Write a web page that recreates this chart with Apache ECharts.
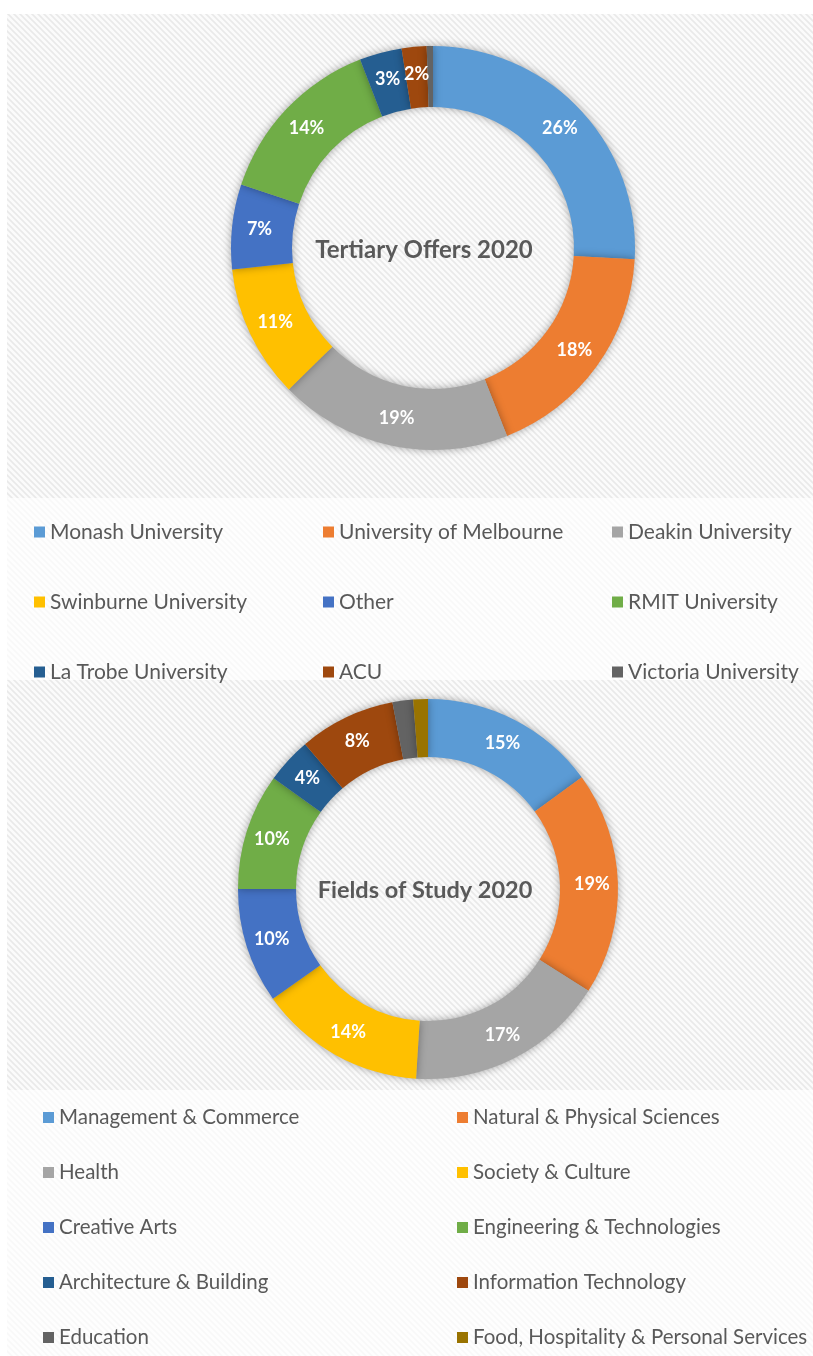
<!DOCTYPE html>
<html>
<head>
<meta charset="utf-8">
<script src="https://cdn.jsdelivr.net/npm/echarts@6/dist/echarts.min.js"></script>
<style>
html,body{margin:0;padding:0;background:#ffffff;}
#chart{width:813px;height:1356px;}
</style>
</head>
<body>
<div id="chart"></div>
<script>
// ---- Data ----
const uniNames = ['Monash University','University of Melbourne','Deakin University','Swinburne University','Other','RMIT University','La Trobe University','ACU','Victoria University'];
const uniValues = [26.0, 18.2, 18.7, 10.7, 6.8, 14.1, 3.4, 2.0, 0.5];
const uniTitle = 'Tertiary Offers 2020';

const fieldNames = ['Management & Commerce','Natural & Physical Sciences','Health','Society & Culture','Creative Arts','Engineering & Technologies','Architecture & Building','Information Technology','Education','Food, Hospitality & Personal Services'];
const fieldValues = [15.0, 19.0, 17.0, 14.2, 9.8, 9.9, 3.9, 8.2, 1.75, 1.25];
const fieldTitle = 'Fields of Study 2020';

const palette = ['#5B9BD5','#ED7D31','#A5A5A5','#FFC000','#4472C4','#70AD47','#255E91','#9E480E','#636363','#997300'];

// ---- Pattern ----
function makePattern(base, stripe) {
  const c = document.createElement('canvas');
  c.width = 6; c.height = 6;
  const g = c.getContext('2d');
  g.fillStyle = base; g.fillRect(0,0,6,6);
  g.strokeStyle = stripe; g.lineWidth = 1.6;
  g.beginPath();
  g.moveTo(-1,-1); g.lineTo(7,7);
  g.moveTo(-4,2); g.lineTo(4,10);
  g.moveTo(2,-4); g.lineTo(10,4);
  g.stroke();
  return c;
}
const hatch = makePattern('#fbfbfb', '#e9e9e9');
const faint = makePattern('#fefefe', '#f8f8f8');

const FONT = 'Lato, "Noto Sans", sans-serif';

function pieSeries(names, values, center, radius, minPct) {
  return {
    type: 'pie',
    center: center,
    radius: radius,
    startAngle: 90,
    clockwise: true,
    avoidLabelOverlap: false,
    data: names.map((n, i) => ({ name: n, value: values[i], itemStyle: { color: palette[i] } })),
    itemStyle: { borderWidth: 0, shadowBlur: 8, shadowColor: 'rgba(0,0,0,0.35)' },
    label: {
      show: true,
      position: 'inside',
      color: '#ffffff',
      fontFamily: FONT,
      fontWeight: 'bold',
      fontSize: 18,
      formatter: p => (p.percent < minPct ? '' : Math.round(p.percent) + '%')
    },
    labelLine: { show: false },
    emphasis: { disabled: true }
  };
}

const chart = echarts.init(document.getElementById('chart'), null, { renderer: 'canvas' });
chart.setOption({
  animation: false,
  backgroundColor: '#ffffff',
  graphic: [
    { type: 'rect', z: -10, silent: true, shape: { x: 7, y: 14, width: 806, height: 484 }, style: { fill: { image: hatch, repeat: 'repeat' } } },
    { type: 'rect', z: -10, silent: true, shape: { x: 7, y: 498, width: 806, height: 182 }, style: { fill: { image: faint, repeat: 'repeat' } } },
    { type: 'rect', z: -10, silent: true, shape: { x: 7, y: 680, width: 806, height: 410 }, style: { fill: { image: hatch, repeat: 'repeat' } } },
    { type: 'rect', z: -10, silent: true, shape: { x: 7, y: 1090, width: 806, height: 266 }, style: { fill: { image: faint, repeat: 'repeat' } } },
    { type: 'text', z: 10, silent: true, x: 424, y: 250, style: { text: uniTitle, fill: '#595959', font: 'bold 24px ' + FONT, textAlign: 'center', textVerticalAlign: 'middle' } },
    { type: 'text', z: 10, silent: true, x: 425, y: 890, style: { text: fieldTitle, fill: '#595959', font: 'bold 23.5px ' + FONT, textAlign: 'center', textVerticalAlign: 'middle' } }
  ],
  legend: [
    {
      data: uniNames,
      left: 29, top: 492, width: 900,
      orient: 'horizontal',
      itemWidth: 11, itemHeight: 11, itemGap: 0,
      icon: 'rect',
      selectedMode: false,
      textStyle: { color: '#595959', fontFamily: FONT, fontSize: 21, width: 273, lineHeight: 70, overflow: 'none' }
    },
    {
      data: fieldNames,
      left: 38, top: 1085, width: 900,
      orient: 'horizontal',
      itemWidth: 11, itemHeight: 11, itemGap: 0,
      icon: 'rect',
      selectedMode: false,
      textStyle: { color: '#595959', fontFamily: FONT, fontSize: 20.5, width: 398, lineHeight: 55, overflow: 'none' }
    }
  ],
  series: [
    pieSeries(uniNames, uniValues, [433, 248], [141, 202], 1),
    pieSeries(fieldNames, fieldValues, [428, 889], [132, 190], 3)
  ]
});
</script>
</body>
</html>
